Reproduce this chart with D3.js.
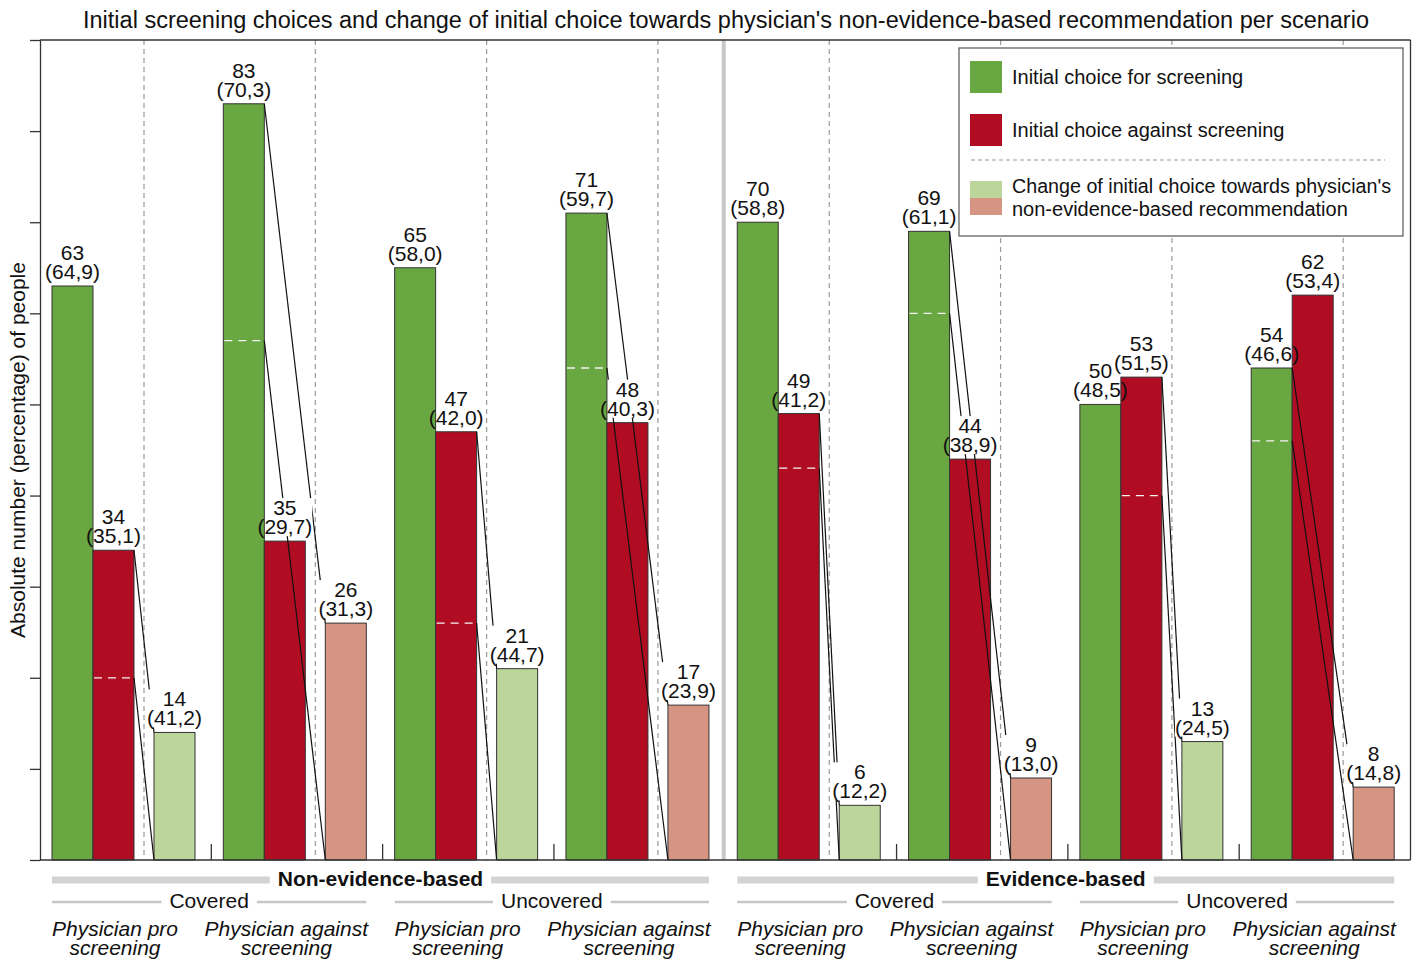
<!DOCTYPE html>
<html>
<head>
<meta charset="utf-8">
<script src="https://cdn.jsdelivr.net/npm/d3@7"></script>
<style>
  body { margin: 0; background: #fff; }
  text { font-family: "Liberation Sans", Arial, sans-serif; fill: #111; }
</style>
</head>
<body>
<svg id="chart" width="1421" height="960"></svg>
<script>
// scenarios, left to right
const evidence = ["Non-evidence-based", "Evidence-based"];
const coverage = ["Covered", "Uncovered", "Covered", "Uncovered"];
const physician = ["pro", "against", "pro", "against", "pro", "against", "pro", "against"];
const physicianLabel = { pro: ["Physician pro", "screening"], against: ["Physician against", "screening"] };

const forCounts = [63, 83, 65, 71, 70, 69, 50, 54];
const forPct = ["64,9", "70,3", "58,0", "59,7", "58,8", "61,1", "48,5", "46,6"];
const againstCounts = [34, 35, 47, 48, 49, 44, 53, 62];
const againstPct = ["35,1", "29,7", "42,0", "40,3", "41,2", "38,9", "51,5", "53,4"];
const changeCounts = [14, 26, 21, 17, 6, 9, 13, 8];
const changePct = ["41,2", "31,3", "44,7", "23,9", "12,2", "13,0", "24,5", "14,8"];

const yTicks = d3.range(0, 91, 10);

const colors = { for: "#69a742", against: "#b00d22", changePro: "#bcd59b", changeAgainst: "#d69482" };

const svg = d3.select("#chart");
const plotL = 40, plotR = 1410.5, plotT = 40, plotB = 860;
const fs = "21px";

const x = d3.scaleBand().domain(d3.range(8)).range([plotL, plotR]);
const y = d3.scaleLinear().domain([0, 90]).range([plotB, plotT]);
const barW = 41;
const off = { for: 12, against: 53, split: 104, change: 114 };

// title
svg.append("text").attr("x", 726).attr("y", 28).attr("text-anchor", "middle")
  .style("font-size", "23.5px").text("Initial screening choices and change of initial choice towards physician's non-evidence-based recommendation per scenario");

// y label
svg.append("text").attr("transform", "translate(25,450) rotate(-90)").attr("text-anchor", "middle")
  .style("font-size", fs).text("Absolute number (percentage) of people");

// dashed splitters inside each scenario
svg.append("g").selectAll("line").data(d3.range(8)).join("line")
  .attr("x1", i => x(i) + off.split).attr("x2", i => x(i) + off.split)
  .attr("y1", plotT).attr("y2", plotB)
  .attr("stroke", "#9a9a9a").attr("stroke-width", 1.2).attr("stroke-dasharray", "5,4");

// middle separator
svg.append("rect").attr("x", x(4) - 3.5).attr("y", plotT).attr("width", 4).attr("height", plotB - plotT).attr("fill", "#c8c8c8");

// bars
const bars = [];
d3.range(8).forEach(i => {
  bars.push({ i, key: "for", v: forCounts[i], pct: forPct[i], fill: colors.for });
  bars.push({ i, key: "against", v: againstCounts[i], pct: againstPct[i], fill: colors.against });
  bars.push({ i, key: "change", v: changeCounts[i], pct: changePct[i],
    fill: physician[i] === "pro" ? colors.changePro : colors.changeAgainst });
});

svg.append("g").selectAll("rect").data(bars).join("rect")
  .attr("x", d => x(d.i) + off[d.key]).attr("width", barW)
  .attr("y", d => y(d.v)).attr("height", d => y(0) - y(d.v))
  .attr("fill", d => d.fill).attr("stroke", "#333").attr("stroke-width", 1);

// white dashed split inside the source bar
const src = d3.range(8).map(i => {
  const key = physician[i] === "pro" ? "against" : "for";
  const total = key === "for" ? forCounts[i] : againstCounts[i];
  return { i, key, total, rest: total - changeCounts[i], change: changeCounts[i] };
});

svg.append("g").selectAll("line").data(src).join("line")
  .attr("x1", d => x(d.i) + off[d.key] + 1).attr("x2", d => x(d.i) + off[d.key] + barW - 1)
  .attr("y1", d => y(d.rest)).attr("y2", d => y(d.rest))
  .attr("stroke", "#f4f4f4").attr("stroke-width", 1.3).attr("stroke-dasharray", "8,6");

// value labels (measured first so the connector mask can cut around them)
const labelG = svg.append("g");
const labels = labelG.selectAll("g").data(bars).join("g")
  .attr("transform", d => `translate(${x(d.i) + off[d.key] + barW / 2},${y(d.v) - 7})`);
labels.append("text").attr("text-anchor", "middle").attr("y", -19).style("font-size", fs).text(d => d.v);
labels.append("text").attr("text-anchor", "middle").attr("y", 0).style("font-size", fs).text(d => `(${d.pct})`);

const mask = svg.append("defs").append("mask").attr("id", "cut")
  .attr("maskUnits", "userSpaceOnUse").attr("x", 0).attr("y", 0).attr("width", 1421).attr("height", 960);
mask.append("rect").attr("width", 1421).attr("height", 960).attr("fill", "#fff");
labels.each(function (d) {
  const b = this.getBBox();
  const cx = x(d.i) + off[d.key] + barW / 2, cy = y(d.v) - 7;
  mask.append("rect").attr("x", cx + b.x).attr("y", cy + b.y + 2)
    .attr("width", b.width).attr("height", b.height - 4).attr("fill", "#000");
});

// connectors from the changed share of the source bar to the change bar
const conn = svg.insert("g", () => labelG.node()).attr("mask", "url(#cut)");
src.forEach(d => {
  const x0 = x(d.i) + off[d.key] + barW, x1 = x(d.i) + off.change;
  conn.append("line").attr("x1", x0).attr("y1", y(d.total)).attr("x2", x1).attr("y2", y(d.change));
  conn.append("line").attr("x1", x0).attr("y1", y(d.rest)).attr("x2", x1).attr("y2", y(0));
});
conn.selectAll("line").attr("stroke", "#111").attr("stroke-width", 1.2);

// axis and frame
svg.append("g").attr("transform", `translate(${plotL},0)`)
  .call(d3.axisLeft(y).tickValues(yTicks).tickFormat("").tickSize(10).tickSizeOuter(0))
  .call(g => g.selectAll("line,path").attr("stroke", "#333").attr("stroke-width", 1.3));
svg.append("line").attr("x1", plotL).attr("x2", plotR).attr("y1", plotT).attr("y2", plotT).attr("stroke", "#333").attr("stroke-width", 1.3);
svg.append("line").attr("x1", plotL).attr("x2", plotR).attr("y1", plotB).attr("y2", plotB).attr("stroke", "#333").attr("stroke-width", 1.5);
svg.append("line").attr("x1", plotR).attr("x2", plotR).attr("y1", plotT).attr("y2", plotB).attr("stroke", "#333").attr("stroke-width", 1.3);
svg.append("g").selectAll("line").data([1, 2, 3, 5, 6, 7]).join("line")
  .attr("x1", i => x(i)).attr("x2", i => x(i)).attr("y1", plotB).attr("y2", plotB - 16)
  .attr("stroke", "#333").attr("stroke-width", 1.3);

// category rows under the axis
function spanLabel(text, x0, x1, yText, weight, lineW, lineC) {
  const cx = (x0 + x1) / 2;
  const t = svg.append("text").attr("x", cx).attr("y", yText).attr("text-anchor", "middle")
    .style("font-size", fs).style("font-weight", weight).text(text);
  const w = t.node().getComputedTextLength();
  const ly = yText - 6;
  svg.append("line").attr("x1", x0).attr("x2", cx - w / 2 - 8).attr("y1", ly).attr("y2", ly)
    .attr("stroke", lineC).attr("stroke-width", lineW);
  svg.append("line").attr("x1", cx + w / 2 + 8).attr("x2", x1).attr("y1", ly).attr("y2", ly)
    .attr("stroke", lineC).attr("stroke-width", lineW);
}
evidence.forEach((e, k) => spanLabel(e, x(4 * k) + off.for, x(4 * k + 3) + off.change + barW, 886, "bold", 7, "#d3d3d3"));
coverage.forEach((c, k) => spanLabel(c, x(2 * k) + off.for, x(2 * k + 1) + off.change + barW, 908, "normal", 2.5, "#c6c6c6"));

const phys = svg.append("g").selectAll("text").data(d3.range(8)).join("text")
  .attr("text-anchor", "middle").attr("x", i => x(i) + 75)
  .style("font-size", fs).style("font-style", "italic");
phys.append("tspan").attr("x", i => x(i) + 75).attr("y", 936).text(i => physicianLabel[physician[i]][0]);
phys.append("tspan").attr("x", i => x(i) + 75).attr("y", 955).text(i => physicianLabel[physician[i]][1]);

// legend
const lfs = "20px";
const lg = svg.append("g").attr("transform", "translate(959,48)");
lg.append("rect").attr("width", 444).attr("height", 188).attr("fill", "#fff").attr("stroke", "#555").attr("stroke-width", 1.2);
const legendItems = [
  { label: "Initial choice for screening", fill: colors.for, y: 13 },
  { label: "Initial choice against screening", fill: colors.against, y: 66 }
];
lg.selectAll("rect.sw").data(legendItems).join("rect").attr("class", "sw")
  .attr("x", 11).attr("y", d => d.y).attr("width", 32).attr("height", 32).attr("fill", d => d.fill);
lg.selectAll("text.lt").data(legendItems).join("text").attr("class", "lt")
  .attr("x", 53).attr("y", d => d.y + 23).style("font-size", lfs).text(d => d.label);
lg.append("line").attr("x1", 12).attr("x2", 426).attr("y1", 112).attr("y2", 112)
  .attr("stroke", "#999").attr("stroke-dasharray", "4,3").attr("stroke-width", 1.2);
lg.append("rect").attr("x", 11).attr("y", 133).attr("width", 32).attr("height", 17).attr("fill", colors.changePro);
lg.append("rect").attr("x", 11).attr("y", 150).attr("width", 32).attr("height", 17).attr("fill", colors.changeAgainst);
lg.append("text").attr("x", 53).attr("y", 145).style("font-size", lfs)
  .attr("textLength", 379).attr("lengthAdjust", "spacingAndGlyphs").text("Change of initial choice towards physician's");
lg.append("text").attr("x", 53).attr("y", 168).style("font-size", lfs).text("non-evidence-based recommendation");
</script>
</body>
</html>
